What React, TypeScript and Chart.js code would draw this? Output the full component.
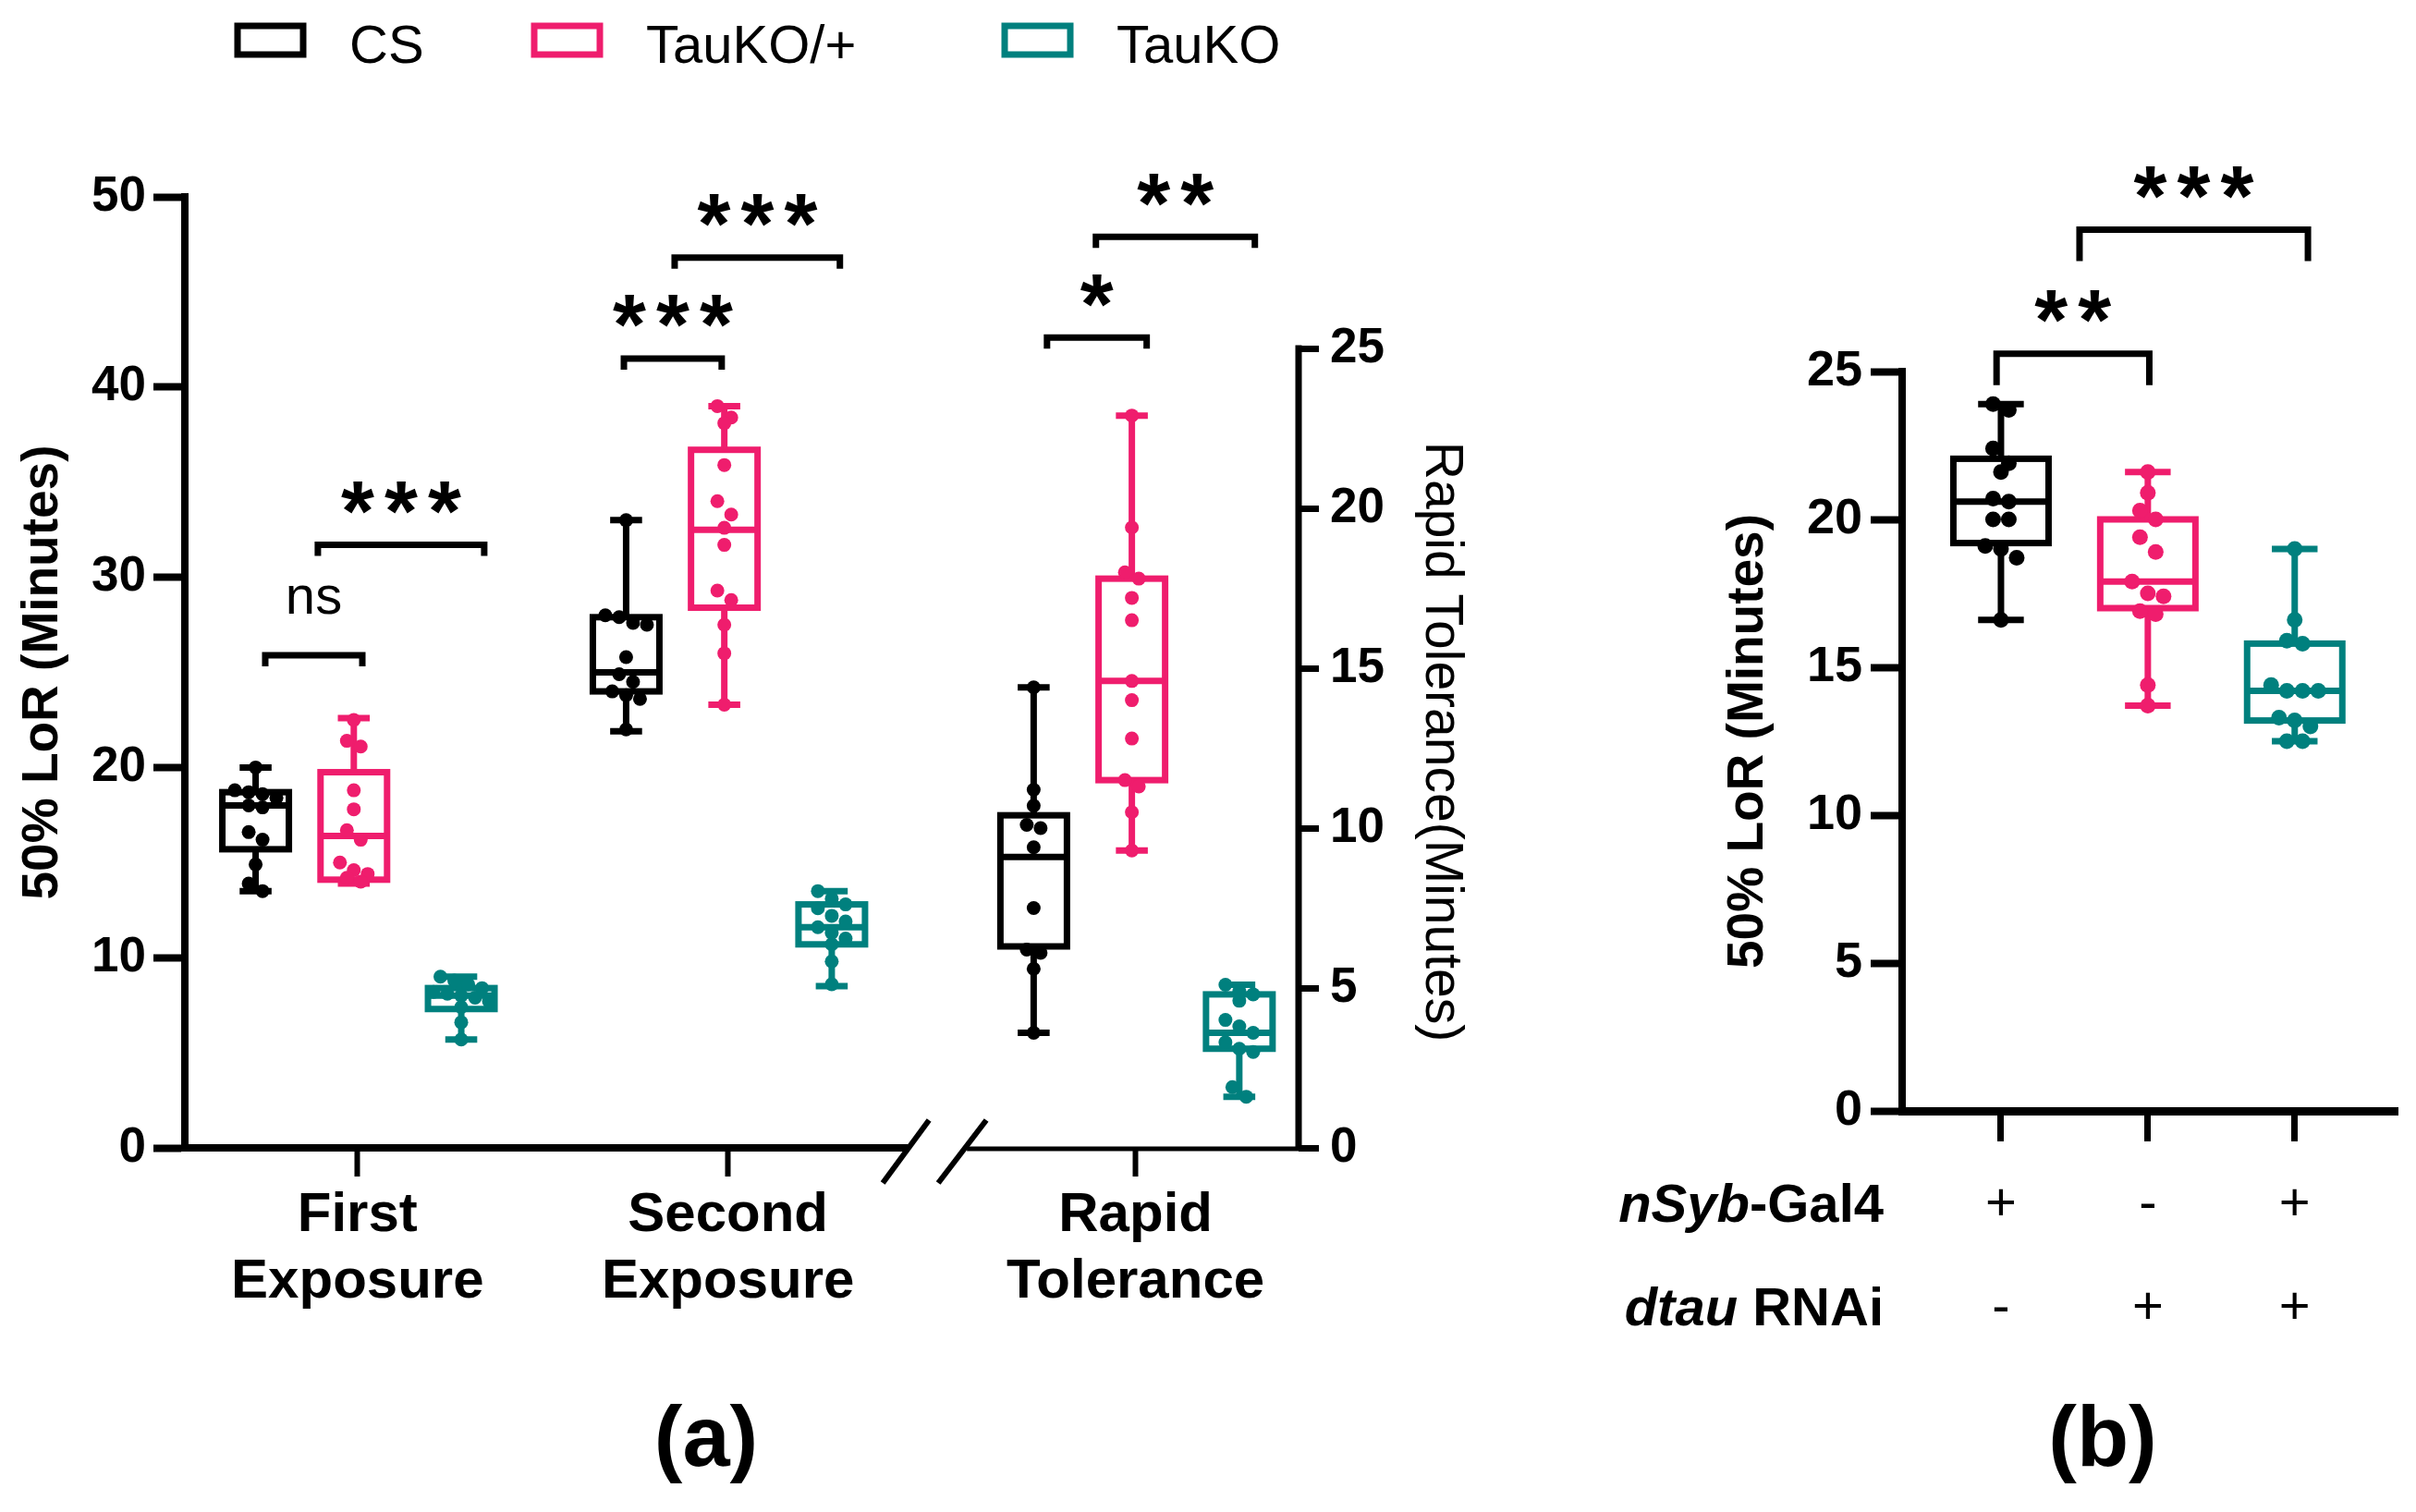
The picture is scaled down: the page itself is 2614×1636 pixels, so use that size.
import React, { useEffect, useRef } from "react";
import { Chart, registerables } from "chart.js";

Chart.register(...registerables);

const FONT = '"Liberation Sans", Arial, Helvetica, sans-serif';

const GROUPS = ["CS", "TauKO/+", "TauKO"];
const GROUP_COLORS = ["#000000", "#EF1D6D", "#00807E"];

// ---------- Panel (a) ----------
const CATEGORIES_A = ["First Exposure", "Second Exposure", "Rapid Tolerance"];
const CATEGORY_POS_A = [1, 2, 3.1];
const GROUP_SHIFT_A = [-0.275, -0.01, 0.28];
const CATEGORY_AXIS_A = ["y", "y", "y2"];
const BREAK_POS_A = 2.55;

const CS_FIRST = [20.0, 18.8, 18.7, 18.6, 18.4, 18.0, 17.9, 16.6, 16.2, 14.9, 13.9, 13.5];
const HET_FIRST = [22.5, 21.4, 21.1, 18.8, 17.8, 16.7, 16.2, 15.0, 14.6, 14.4, 14.2, 14.0];
const KO_FIRST = [9.0, 8.8, 8.6, 8.4, 8.2, 8.1, 8.0, 7.9, 7.7, 7.4, 6.6, 5.7];
const CS_SECOND = [33.0, 28.0, 27.9, 27.6, 27.5, 25.8, 24.9, 24.5, 24.0, 23.8, 23.6, 22.0];
const HET_SECOND = [39.0, 38.4, 38.1, 35.9, 34.0, 33.3, 32.6, 31.7, 29.3, 28.8, 27.5, 26.0, 23.3];
const KO_SECOND = [13.5, 13.1, 12.8, 12.6, 12.2, 11.9, 11.6, 11.3, 11.0, 10.7, 9.8, 8.6];
const CS_RAPID = [14.4, 11.2, 10.7, 10.1, 10.0, 9.4, 7.5, 6.2, 6.1, 5.6, 3.6];
const HET_RAPID = [22.9, 19.4, 18.0, 17.8, 17.2, 16.5, 14.6, 14.0, 12.8, 11.5, 11.3, 10.5, 9.3];
const KO_RAPID = [5.1, 4.9, 4.8, 4.6, 4.0, 3.8, 3.6, 3.3, 3.1, 3.0, 1.9, 1.6];

// box summaries: [min, Q1, median, Q3, max]
const CS_FIRST_BOX = [13.5, 15.7, 18.0, 18.7, 20.0];
const HET_FIRST_BOX = [13.9, 14.1, 16.4, 19.75, 22.6];
const KO_FIRST_BOX = [5.7, 7.3, 8.0, 8.4, 9.0];
const CS_SECOND_BOX = [21.9, 24.0, 25.0, 27.9, 33.0];
const HET_SECOND_BOX = [23.3, 28.4, 32.5, 36.7, 39.0];
const KO_SECOND_BOX = [8.5, 10.7, 11.6, 12.8, 13.5];
const CS_RAPID_BOX = [3.6, 6.3, 9.1, 10.4, 14.4];
const HET_RAPID_BOX = [9.3, 11.5, 14.6, 17.8, 22.9];
const KO_RAPID_BOX = [1.6, 3.1, 3.6, 4.8, 5.1];

const POINTS_A = [
  [CS_FIRST, HET_FIRST, KO_FIRST],
  [CS_SECOND, HET_SECOND, KO_SECOND],
  [CS_RAPID, HET_RAPID, KO_RAPID],
];
const BOXES_A = [
  [CS_FIRST_BOX, HET_FIRST_BOX, KO_FIRST_BOX],
  [CS_SECOND_BOX, HET_SECOND_BOX, KO_SECOND_BOX],
  [CS_RAPID_BOX, HET_RAPID_BOX, KO_RAPID_BOX],
];

// significance brackets (x in category units, y in left-axis units)
const SIG_A_X1 = [0.751, 0.893, 1.719, 1.856, 2.861, 2.993];
const SIG_A_X2 = [1.013, 1.342, 1.983, 2.302, 3.13, 3.422];
const SIG_A_Y = [25.9, 31.7, 41.5, 46.8, 42.6, 47.9];
const SIG_A_LABEL = ["ns", "***", "***", "***", "*", "**"];

// ---------- Panel (b) ----------
const CATEGORY_POS_B = [1, 2, 3];
const ROW_NSYB = ["+", "-", "+"];
const ROW_DTAU = ["-", "+", "+"];

const CS_B = [23.9, 23.7, 22.4, 21.9, 21.6, 20.7, 20.6, 20.0, 20.0, 19.1, 19.0, 18.7, 16.6];
const HET_B = [21.6, 20.9, 20.3, 20.0, 19.4, 18.9, 17.9, 17.5, 17.4, 16.9, 16.8, 14.4, 13.7];
const KO_B = [19.0, 16.6, 15.9, 15.8, 14.4, 14.2, 14.2, 14.2, 13.3, 13.2, 13.0, 12.5, 12.5];
const CS_B_BOX = [16.6, 19.2, 20.6, 22.05, 23.9];
const HET_B_BOX = [13.7, 17.0, 17.9, 20.0, 21.6];
const KO_B_BOX = [12.5, 13.2, 14.2, 15.8, 19.0];
const POINTS_B = [CS_B, HET_B, KO_B];
const BOXES_B = [CS_B_BOX, HET_B_BOX, KO_B_BOX];

const SIG_B_X1 = [0.97, 1.535];
const SIG_B_X2 = [2.01, 3.09];
const SIG_B_Y = [25.6, 29.8];
const SIG_B_LABEL = ["**", "***"];

// ---------- drawing helpers ----------
function line(ctx: any, x1: number, y1: number, x2: number, y2: number) {
  ctx.beginPath();
  ctx.moveTo(x1, y1);
  ctx.lineTo(x2, y2);
  ctx.stroke();
}

function drawBoxes(chart: any, metas: any[], boxW: number, lw: number) {
  const ctx = chart.ctx;
  const xs = chart.scales.x;
  ctx.save();
  metas.forEach((m) => {
    const ys = chart.scales[m.axis];
    const cx = xs.getPixelForValue(m.cx);
    const [mn, q1, md, q3, mx] = m.box.map((v: number) => ys.getPixelForValue(v));
    const hw = boxW / 2;
    const cap = boxW * 0.24;
    ctx.strokeStyle = m.color;
    ctx.lineWidth = lw;
    ctx.lineCap = "butt";
    ctx.lineJoin = "miter";
    ctx.fillStyle = "#ffffff";
    ctx.fillRect(cx - hw, q3, boxW, q1 - q3);
    ctx.strokeRect(cx - hw, q3, boxW, q1 - q3);
    line(ctx, cx - hw, md, cx + hw, md);
    line(ctx, cx, q3, cx, mx);
    line(ctx, cx - cap, mx, cx + cap, mx);
    line(ctx, cx, q1, cx, mn);
    line(ctx, cx - cap, mn, cx + cap, mn);
  });
  ctx.restore();
}

function drawCentered(ctx: any, text: string, cx: number, cy: number) {
  ctx.textAlign = "center";
  ctx.textBaseline = "alphabetic";
  const m = ctx.measureText(text);
  const base = cy + (m.actualBoundingBoxAscent - m.actualBoundingBoxDescent) / 2;
  ctx.fillText(text, cx, base);
}

function drawSig(ctx: any, x1: number, x2: number, y: number, leg: number, label: string) {
  ctx.save();
  ctx.strokeStyle = "#000";
  ctx.fillStyle = "#000";
  ctx.lineWidth = 7;
  ctx.lineJoin = "miter";
  ctx.lineCap = "butt";
  ctx.beginPath();
  ctx.moveTo(x1, y + leg);
  ctx.lineTo(x1, y);
  ctx.lineTo(x2, y);
  ctx.lineTo(x2, y + leg);
  ctx.stroke();
  const cx = (x1 + x2) / 2;
  if (label[0] === "*") {
    ctx.font = `bold 100px ${FONT}`;
    const m = ctx.measureText("*");
    const w100 = m.actualBoundingBoxLeft + m.actualBoundingBoxRight;
    const size = (100 * 36) / Math.max(1, w100);
    ctx.font = `bold ${size}px ${FONT}`;
    const n = label.length;
    const sp = 47;
    for (let i = 0; i < n; i++) {
      drawCentered(ctx, "*", cx + (i - (n - 1) / 2) * sp, y - 51);
    }
  } else {
    ctx.font = `58px ${FONT}`;
    drawCentered(ctx, label, cx, y - 60);
  }
  ctx.restore();
}

function applySwarm(chart: any, metas: any[], halfWidth: number, r: number) {
  const xs = chart.scales.x;
  metas.forEach((m, di) => {
    const ys = chart.scales[m.axis];
    const cx = xs.getPixelForValue(m.cx);
    const pts = m.values.map((v: number, i: number) => ({ i, py: ys.getPixelForValue(v) }));
    pts.sort((a: any, b: any) => a.py - b.py);
    const bins: any[][] = [];
    pts.forEach((p: any) => {
      const last = bins[bins.length - 1];
      if (last && p.py - last[0].py < 2 * r) last.push(p);
      else bins.push([p]);
    });
    bins.forEach((bin) => {
      const n = bin.length;
      const step = n > 1 ? Math.min(2 * r, (2 * halfWidth) / (n - 1)) : 0;
      bin.forEach((p: any, k: number) => {
        const off = (k - (n - 1) / 2) * step;
        chart.data.datasets[di].data[p.i].x = xs.getValueForPixel(cx + off);
      });
    });
  });
  chart.update("none");
}

function buildChartA(canvas: HTMLCanvasElement) {
  const datasets: any[] = [];
  const metas: any[] = [];
  CATEGORIES_A.forEach((cat, c) => {
    GROUPS.forEach((g, gi) => {
      const cx = CATEGORY_POS_A[c] + GROUP_SHIFT_A[gi];
      datasets.push({
        label: `${g} ${cat}`,
        data: POINTS_A[c][gi].map((v) => ({ x: cx, y: v })),
        yAxisID: CATEGORY_AXIS_A[c],
        backgroundColor: GROUP_COLORS[gi],
        borderColor: GROUP_COLORS[gi],
        borderWidth: 0,
        pointRadius: 7.5,
        pointHoverRadius: 7.5,
      });
      metas.push({ cx, axis: CATEGORY_AXIS_A[c], values: POINTS_A[c][gi], box: BOXES_A[c][gi], color: GROUP_COLORS[gi] });
    });
  });

  const plugin = {
    id: "panelA",
    beforeDatasetsDraw(chart: any) {
      drawBoxes(chart, metas, 72, 7);
    },
    afterDraw(chart: any) {
      const ctx = chart.ctx;
      const { left, right, bottom } = chart.chartArea;
      const xs = chart.scales.x;
      const ys = chart.scales.y;
      const y2 = chart.scales.y2;
      ctx.save();
      ctx.strokeStyle = "#000";
      ctx.fillStyle = "#000";
      ctx.lineCap = "butt";
      // broken x axis
      const bx = xs.getPixelForValue(BREAK_POS_A);
      ctx.lineWidth = 8;
      line(ctx, left - 4, bottom, bx - 26, bottom);
      ctx.lineWidth = 5;
      line(ctx, bx + 38, bottom + 1, right, bottom + 1);
      ctx.lineWidth = 6;
      line(ctx, bx - 53, bottom + 38, bx - 3, bottom - 30);
      line(ctx, bx + 7, bottom + 38, bx + 59, bottom - 30);
      // right axis line (0..25)
      ctx.lineWidth = 7;
      line(ctx, right, y2.getPixelForValue(0) + 3, right, y2.getPixelForValue(25) - 3.5);
      // right axis title
      ctx.save();
      ctx.translate(right + 153, (y2.getPixelForValue(0) + y2.getPixelForValue(25)) / 2 - 7);
      ctx.rotate(Math.PI / 2);
      ctx.font = `57px ${FONT}`;
      drawCentered(ctx, "Rapid Tolerance(Minutes)", 0, 0);
      ctx.restore();
      // significance brackets
      SIG_A_LABEL.forEach((lab, i) => {
        drawSig(ctx, xs.getPixelForValue(SIG_A_X1[i]), xs.getPixelForValue(SIG_A_X2[i]), ys.getPixelForValue(SIG_A_Y[i]), 12, lab);
      });
      // legend
      const boxX = [254, 575, 1084];
      GROUPS.forEach((g, gi) => {
        ctx.lineWidth = 7;
        ctx.strokeStyle = GROUP_COLORS[gi];
        ctx.fillStyle = "#fff";
        ctx.fillRect(boxX[gi] + 3, 28, 71, 31);
        ctx.strokeRect(boxX[gi] + 3, 28, 71, 31);
        ctx.fillStyle = "#000";
        ctx.font = `58px ${FONT}`;
        ctx.textAlign = "left";
        ctx.textBaseline = "alphabetic";
        ctx.fillText(g, boxX[gi] + 124, 68);
      });
      // panel letter
      ctx.font = `bold 92px ${FONT}`;
      ctx.fillStyle = "#000";
      drawCentered(ctx, "(a)", 764, 1562);
      ctx.restore();
    },
  };

  const chart = new Chart(canvas, {
    type: "scatter",
    data: { datasets },
    plugins: [plugin],
    options: {
      responsive: false,
      animation: false,
      devicePixelRatio: 1,
      events: [],
      layout: { padding: { left: 0, top: 213, right: 95, bottom: 194 } },
      plugins: { legend: { display: false }, tooltip: { enabled: false } },
      scales: {
        x: {
          type: "linear",
          bounds: "data",
          min: 0.534,
          max: 3.54,
          afterFit(s: any) {
            s.height = 200;
          },
          afterBuildTicks(s: any) {
            s.ticks = CATEGORY_POS_A.map((v) => ({ value: v }));
          },
          ticks: {
            autoSkip: false,
            maxRotation: 0,
            padding: 6,
            color: "#000",
            font: { family: FONT, size: 60, weight: "bold", lineHeight: 1.2 },
            callback: (_v: any, i: number) => CATEGORIES_A[i].split(" "),
          },
          grid: { display: true, drawOnChartArea: false, tickLength: 31, tickWidth: 6, color: "#000" },
          border: { display: false },
        },
        y: {
          position: "left",
          bounds: "data",
          min: 0,
          max: 50,
          afterFit(s: any) {
            s.width = 200;
          },
          ticks: { stepSize: 10, padding: 8, color: "#000", font: { family: FONT, size: 53, weight: "bold" } },
          grid: { display: true, drawOnChartArea: false, tickLength: 34, tickWidth: 8, color: "#000" },
          border: { display: true, width: 8, color: "#000" },
          title: {
            display: true,
            text: "50% LoR (Minutes)",
            color: "#000",
            font: { family: FONT, size: 55, weight: "bold", lineHeight: 1.2 },
            padding: { top: 14, bottom: 0 },
          },
        },
        y2: {
          position: "right",
          bounds: "data",
          min: 0,
          max: 29.74,
          afterFit(s: any) {
            s.width = 200;
          },
          ticks: { stepSize: 5, includeBounds: false, padding: 12, color: "#000", font: { family: FONT, size: 53, weight: "bold" } },
          grid: { display: true, drawOnChartArea: false, tickLength: 22, tickWidth: 7, color: "#000" },
          border: { display: false },
        },
      },
    } as any,
  });
  applySwarm(chart, metas, 30, 7.5);
  return chart;
}

function buildChartB(canvas: HTMLCanvasElement) {
  const datasets: any[] = [];
  const metas: any[] = [];
  GROUPS.forEach((g, gi) => {
    const cx = CATEGORY_POS_B[gi];
    datasets.push({
      label: g,
      data: POINTS_B[gi].map((v) => ({ x: cx, y: v })),
      yAxisID: "y",
      backgroundColor: GROUP_COLORS[gi],
      borderColor: GROUP_COLORS[gi],
      borderWidth: 0,
      pointRadius: 8.5,
      pointHoverRadius: 8.5,
    });
    metas.push({ cx, axis: "y", values: POINTS_B[gi], box: BOXES_B[gi], color: GROUP_COLORS[gi] });
  });

  const plugin = {
    id: "panelB",
    beforeDatasetsDraw(chart: any) {
      drawBoxes(chart, metas, 103, 7);
    },
    afterDraw(chart: any) {
      const ctx = chart.ctx;
      const xs = chart.scales.x;
      const ys = chart.scales.y;
      const { left } = chart.chartArea;
      ctx.save();
      SIG_B_LABEL.forEach((lab, i) => {
        drawSig(ctx, xs.getPixelForValue(SIG_B_X1[i]), xs.getPixelForValue(SIG_B_X2[i]), ys.getPixelForValue(SIG_B_Y[i]), 34, lab);
      });
      // genotype rows
      const rows = [
        { italic: "nSyb", rest: "-Gal4", signs: ROW_NSYB, base: 1322 },
        { italic: "dtau", rest: " RNAi", signs: ROW_DTAU, base: 1434 },
      ];
      const labelRight = left - 20;
      rows.forEach((r) => {
        ctx.fillStyle = "#000";
        ctx.textBaseline = "alphabetic";
        ctx.textAlign = "right";
        ctx.font = `bold 58px ${FONT}`;
        const restW = ctx.measureText(r.rest).width;
        ctx.fillText(r.rest, labelRight, r.base);
        ctx.font = `italic bold 58px ${FONT}`;
        ctx.fillText(r.italic, labelRight - restW, r.base);
        ctx.font = `58px ${FONT}`;
        ctx.textAlign = "center";
        r.signs.forEach((s, k) => {
          ctx.fillText(s, xs.getPixelForValue(CATEGORY_POS_B[k]), r.base - 2);
        });
      });
      ctx.font = `bold 92px ${FONT}`;
      drawCentered(ctx, "(b)", 575, 1562);
      ctx.restore();
    },
  };

  const chart = new Chart(canvas, {
    type: "scatter",
    data: { datasets },
    plugins: [plugin],
    options: {
      responsive: false,
      animation: false,
      devicePixelRatio: 1,
      events: [],
      layout: { padding: { left: 150, top: 402, right: 20, bottom: 234 } },
      plugins: { legend: { display: false }, tooltip: { enabled: false } },
      scales: {
        x: {
          type: "linear",
          bounds: "data",
          min: 0.327,
          max: 3.7,
          afterFit(s: any) {
            s.height = 200;
          },
          afterBuildTicks(s: any) {
            s.ticks = CATEGORY_POS_B.map((v) => ({ value: v }));
          },
          ticks: { autoSkip: false, maxRotation: 0, callback: () => "" },
          grid: { display: true, drawOnChartArea: false, tickLength: 33, tickWidth: 7, color: "#000" },
          border: { display: true, width: 9, color: "#000" },
        },
        y: {
          position: "left",
          bounds: "data",
          min: 0,
          max: 25,
          afterFit(s: any) {
            s.width = 208;
          },
          ticks: { stepSize: 5, padding: 9, color: "#000", font: { family: FONT, size: 54, weight: "bold" } },
          grid: { display: true, drawOnChartArea: false, tickLength: 34, tickWidth: 8, color: "#000" },
          border: { display: true, width: 8, color: "#000" },
          title: {
            display: true,
            text: "50% LoR (Minutes)",
            color: "#000",
            font: { family: FONT, size: 55, weight: "bold", lineHeight: 1.2 },
            padding: { top: 9, bottom: 0 },
          },
        },
      },
    } as any,
  });
  applySwarm(chart, metas, 36, 8.5);
  return chart;
}

export default function App() {
  const refA = useRef<HTMLCanvasElement>(null);
  const refB = useRef<HTMLCanvasElement>(null);
  useEffect(() => {
    const a = refA.current ? buildChartA(refA.current) : null;
    const b = refB.current ? buildChartB(refB.current) : null;
    return () => {
      a?.destroy();
      b?.destroy();
    };
  }, []);
  return (
    <div style={{ position: "absolute", left: 0, top: 0, width: 2614, height: 1636, background: "#fff", overflow: "hidden" }}>
      <canvas ref={refA} width={1700} height={1636} style={{ position: "absolute", left: 0, top: 0, width: 1700, height: 1636 }} />
      <canvas ref={refB} width={914} height={1636} style={{ position: "absolute", left: 1700, top: 0, width: 914, height: 1636 }} />
    </div>
  );
}
